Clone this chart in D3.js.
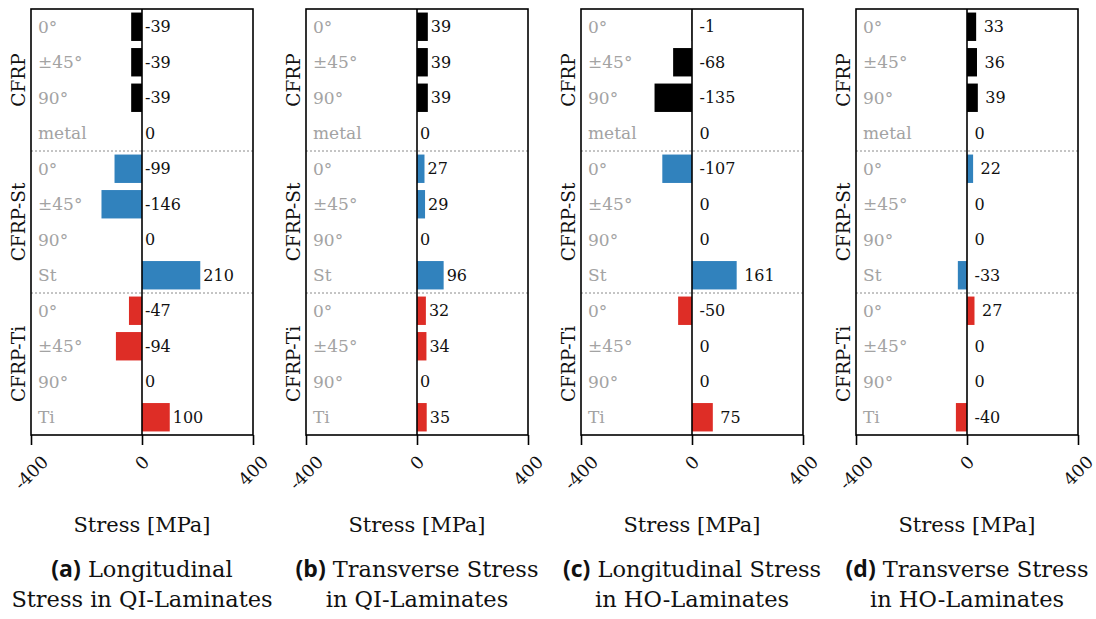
<!DOCTYPE html>
<html>
<head>
<meta charset="utf-8">
<script src="https://cdn.jsdelivr.net/npm/d3@7"></script>
<style>
  html, body { margin: 0; padding: 0; background: #fff; }
  svg { display: block; }
  svg text { font-family: "DejaVu Serif", "Liberation Serif", serif; }
</style>
</head>
<body>
<svg id="chart" width="1096" height="619"></svg>
<script>
// Row labels (top to bottom) and the laminate group each row belongs to
const rowLabels = ["0°", "±45°", "90°", "metal", "0°", "±45°", "90°", "St", "0°", "±45°", "90°", "Ti"];
const rowGroups = ["CFRP", "CFRP", "CFRP", "CFRP", "CFRP-St", "CFRP-St", "CFRP-St", "CFRP-St", "CFRP-Ti", "CFRP-Ti", "CFRP-Ti", "CFRP-Ti"];
const groupNames = ["CFRP", "CFRP-St", "CFRP-Ti"];
const groupColors = ["#000000", "#3182bd", "#de2d26"];

// Stress values [MPa] per panel, one per row
const longitudinalQI = [-39, -39, -39, 0, -99, -146, 0, 210, -47, -94, 0, 100];
const transverseQI   = [39, 39, 39, 0, 27, 29, 0, 96, 32, 34, 0, 35];
const longitudinalHO = [-1, -68, -135, 0, -107, 0, 0, 161, -50, 0, 0, 75];
const transverseHO   = [33, 36, 39, 0, 22, 0, 0, -33, 27, 0, 0, -40];

const panelValues = [longitudinalQI, transverseQI, longitudinalHO, transverseHO];
const panelTags = ["(a)", "(b)", "(c)", "(d)"];
const captionLine1 = ["Longitudinal", "Transverse Stress", "Longitudinal Stress", "Transverse Stress"];
const captionLine2 = ["Stress in QI-Laminates", "in QI-Laminates", "in HO-Laminates", "in HO-Laminates"];

const xTicks = [-400, 0, 400];
const xDomain = [-400, 400];
const axisTitle = "Stress [MPa]";

// Layout
const serif = "'DejaVu Serif', 'Liberation Serif', serif";
const panelLefts = [31, 306, 581, 856];
const panelW = 222;
const plotTop = 9, plotBottom = 435;
const labelPad = [3, 3, 7.5, 7.5];
const valueFont = 16;
const tickFont = 17.5;
const captionFont = 22.5;

const svg = d3.select("#chart");
svg.append("rect").attr("width", 1096).attr("height", 619).attr("fill", "#fff");

const rowKeys = rowLabels.map((d, i) => i);
const y = d3.scaleBand().domain(rowKeys).range([plotTop, plotBottom]).paddingInner(0.2).paddingOuter(0.1);

panelValues.forEach((vals, p) => {
  const g = svg.append("g").attr("transform", `translate(${panelLefts[p]},0)`).attr("font-family", serif);
  const x = d3.scaleLinear().domain(xDomain).range([0, panelW]);
  const step = y.step();
  const rowTop = i => y(i) - y.paddingInner() * step / 2;

  // bars
  g.selectAll("rect.bar").data(vals).join("rect")
    .attr("class", "bar")
    .attr("x", d => x(Math.min(0, d)))
    .attr("width", d => Math.abs(x(d) - x(0)))
    .attr("y", (d, i) => y(i))
    .attr("height", y.bandwidth())
    .attr("fill", (d, i) => groupColors[groupNames.indexOf(rowGroups[i])]);

  // group separators
  groupNames.slice(1).forEach(gn => {
    const first = rowGroups.indexOf(gn);
    const yy = rowTop(first);
    g.append("line")
      .attr("x1", 0).attr("x2", panelW).attr("y1", yy).attr("y2", yy)
      .attr("stroke", "#8a8a8a").attr("stroke-width", 1).attr("stroke-dasharray", "2,2");
  });

  // category labels inside the plot
  g.selectAll("text.cat").data(rowLabels).join("text")
    .attr("class", "cat")
    .attr("x", 7)
    .attr("y", (d, i) => y(i) + y.bandwidth() / 2)
    .attr("dy", "0.35em")
    .attr("fill", "#a3a3a3")
    .attr("font-size", 17)
    .text(d => d);

  // value labels
  g.selectAll("text.val").data(vals).join("text")
    .attr("class", "val")
    .attr("x", d => x(Math.max(0, d)) + labelPad[p])
    .attr("y", (d, i) => y(i) + y.bandwidth() / 2)
    .attr("dy", "0.35em")
    .attr("fill", "#111")
    .attr("font-size", valueFont)
    .text(d => String(d));

  // zero line
  g.append("line")
    .attr("x1", x(0)).attr("x2", x(0)).attr("y1", plotTop).attr("y2", plotBottom)
    .attr("stroke", "#000").attr("stroke-width", 1.6);

  // frame
  g.append("rect")
    .attr("x", 0).attr("y", plotTop).attr("width", panelW).attr("height", plotBottom - plotTop)
    .attr("fill", "none").attr("stroke", "#000").attr("stroke-width", 1.6);

  // group labels, rotated on the left
  groupNames.forEach(gn => {
    const idx = rowGroups.map((r, i) => r === gn ? i : -1).filter(i => i >= 0);
    const cy = (rowTop(idx[0]) + rowTop(idx[idx.length - 1]) + step) / 2;
    g.append("text")
      .attr("transform", `translate(-6,${cy}) rotate(-90)`)
      .attr("text-anchor", "middle")
      .attr("font-size", 18.5)
      .attr("fill", "#111")
      .text(gn);
  });

  // x axis
  const axis = d3.axisBottom(x).tickValues(xTicks).tickSize(10).tickSizeOuter(0).tickFormat(d => String(d));
  const ax = g.append("g").attr("transform", `translate(0,${plotBottom})`).call(axis)
    .attr("font-family", serif).attr("font-size", tickFont);
  ax.select(".domain").remove();
  ax.selectAll(".tick line").attr("stroke", "#000").attr("stroke-width", 1.6);
  ax.selectAll(".tick text")
    .attr("fill", "#111")
    .attr("text-anchor", "middle")
    .attr("dy", "0.32em")
    .attr("y", 0)
    .each(function () {
      const w = this.getComputedTextLength();
      const off = 18 + (w + tickFont) * 0.3536;
      d3.select(this).attr("transform", `translate(0,${off}) rotate(-45)`);
    });

  // axis title
  g.append("text")
    .attr("x", panelW / 2).attr("y", 532)
    .attr("text-anchor", "middle")
    .attr("font-size", 21)
    .attr("fill", "#111")
    .text(axisTitle);

  // caption
  const cap = g.append("text")
    .attr("x", panelW / 2).attr("y", 577)
    .attr("text-anchor", "middle")
    .attr("font-size", captionFont)
    .attr("fill", "#111");
  cap.append("tspan")
    .attr("font-family", "'Open Sans', sans-serif")
    .attr("font-weight", "bold")
    .attr("font-size", 23)
    .text(panelTags[p]);
  cap.append("tspan").text(" " + captionLine1[p]);
  g.append("text")
    .attr("x", panelW / 2).attr("y", 607)
    .attr("text-anchor", "middle")
    .attr("font-size", captionFont)
    .attr("fill", "#111")
    .text(captionLine2[p]);
});
</script>
</body>
</html>
